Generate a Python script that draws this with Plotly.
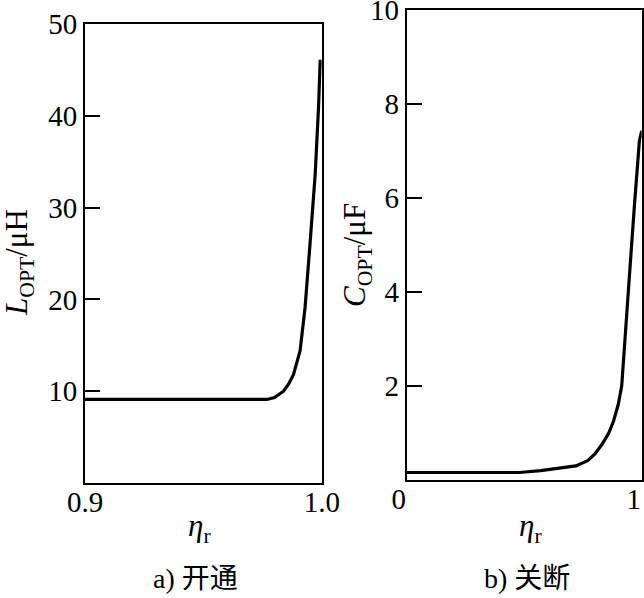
import plotly.graph_objects as go

# Left panel: turn-on, L_OPT vs eta_r
eta_on = [0.900, 0.920, 0.940, 0.960, 0.9768, 0.980, 0.9838, 0.9860, 0.9880, 0.9908, 0.9929, 0.9951, 0.9972, 0.9986, 0.9993]
L_opt = [9.1, 9.1, 9.1, 9.1, 9.1, 9.3, 10.0, 10.8, 11.8, 14.4, 19.1, 26.4, 33.7, 41.0, 46.1]

# Right panel: turn-off, C_OPT vs eta_r
eta_off = [0.0, 0.20, 0.40, 0.48, 0.57, 0.72, 0.77, 0.80, 0.83, 0.86, 0.88, 0.90, 0.915, 0.93, 0.95, 0.97, 0.99, 1.0]
C_opt = [0.16, 0.16, 0.16, 0.16, 0.20, 0.30, 0.41, 0.55, 0.75, 1.00, 1.25, 1.60, 2.00, 3.00, 4.50, 5.90, 7.20, 7.43]

left_yticks = [10, 20, 30, 40, 50]
right_yticks = [2, 4, 6, 8, 10]

SERIF = "Liberation Serif, Times New Roman, serif"
CAP = "Liberation Serif, Noto Sans CJK SC, serif"

fig = go.Figure()
fig.add_trace(go.Scatter(x=eta_on, y=L_opt, mode="lines", line=dict(color="black", width=3.2),
                         xaxis="x", yaxis="y", showlegend=False, cliponaxis=False))
fig.add_trace(go.Scatter(x=eta_off, y=C_opt, mode="lines", line=dict(color="black", width=3.2),
                         xaxis="x2", yaxis="y2", showlegend=False, cliponaxis=False))

axis_common = dict(showgrid=False, zeroline=False, showline=True, linecolor="black",
                   linewidth=2, mirror=True, automargin=False, ticklabeloverflow="allow",
                   tickfont=dict(family=SERIF, size=29, color="black"))

fig.update_layout(
    template="none",
    width=644, height=598,
    margin=dict(l=0, r=0, t=0, b=0),
    paper_bgcolor="white", plot_bgcolor="white",
    xaxis=dict(domain=[0.132, 0.4998], range=[0.9, 1.0], tickvals=[0.9, 1.0],
               ticktext=["0.9", "1.0"], ticks="", anchor="y", ticklabelstandoff=-8,
               **axis_common),
    yaxis=dict(domain=[0.1923, 0.9599], range=[0, 50], tickvals=left_yticks,
               ticks="inside", ticklen=15, tickwidth=2, tickcolor="black", anchor="x", **axis_common),
    xaxis2=dict(domain=[0.6315, 0.9964], range=[0, 1], tickvals=[0, 1],
                ticktext=["0", "1"], ticks="", anchor="y2", ticklabelstandoff=-8,
                ticklabelshift=-8, **axis_common),
    yaxis2=dict(domain=[0.1973, 0.9833], range=[0, 10], tickvals=right_yticks,
                ticks="inside", ticklen=15, tickwidth=2, tickcolor="black", anchor="x2", **axis_common),
)

def ann(text, x, y, size=28, angle=0, family=SERIF):
    fig.add_annotation(text=text, x=x / 644, y=1 - y / 598, xref="paper", yref="paper",
                       showarrow=False, textangle=angle, xanchor="center", yanchor="middle",
                       font=dict(family=family, size=size, color="black"))

ann("<i>L</i><sub>OPT</sub>/μH", 19, 263, size=31, angle=-90)
ann("<i>C</i><sub>OPT</sub>/μF", 357, 255, size=31, angle=-90)
ann("<i>η</i><sub>r</sub>", 200, 528, size=31)
ann("<i>η</i><sub>r</sub>", 530, 528, size=31)
ann("a) 开通", 195, 578, size=28, family=CAP)
ann("b) 关断", 527, 578, size=28, family=CAP)

fig.write_html("out.html", config={"displayModeBar": False},
               post_script="document.body.style.margin='0';document.body.style.overflow='hidden';")
